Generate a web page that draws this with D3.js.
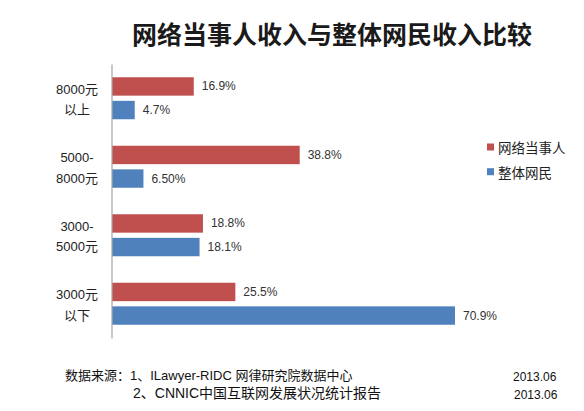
<!DOCTYPE html>
<html>
<head>
<meta charset="utf-8">
<script src="https://cdn.jsdelivr.net/npm/d3@7"></script>
<style>
  body { margin: 0; background: #fff; }
  svg { display: block; }
</style>
</head>
<body>
<svg width="584" height="411"></svg>
<script>
const categories = ["8000元\n以上", "5000-\n8000元", "3000-\n5000元", "3000元\n以下"];
const seriesNames = ["网络当事人", "整体网民"];
const netValues = [16.9, 38.8, 18.8, 25.5];
const allValues = [4.7, 6.5, 18.1, 70.9];
const netLabels = ["16.9%", "38.8%", "18.8%", "25.5%"];
const allLabels = ["4.7%", "6.50%", "18.1%", "70.9%"];
const colors = ["#c0504d", "#4f81bd"];

const cjk = "'Liberation Sans', 'Noto Sans CJK SC', sans-serif";
const svg = d3.select("svg");

const xScale = d3.scaleLinear().domain([0, 80]).range([112, 499]);
const yScale = d3.scaleBand().domain(categories).range([64, 338]).padding(0);
const inner = d3.scaleBand().domain(seriesNames).range([-21, 21]).paddingInner(0.22);

// title
svg.append("text")
  .attr("x", 132)
  .attr("y", 33)
  .attr("dominant-baseline", "central")
  .style("font-family", "'Noto Sans CJK SC', sans-serif")
  .style("font-size", "25px")
  .style("font-weight", "bold")
  .attr("fill", "#1a1a1a")
  .text("网络当事人收入与整体网民收入比较");

// rows
const data = categories.map((c, i) => ({
  cat: c,
  vals: [
    { s: seriesNames[0], v: netValues[i], label: netLabels[i], color: colors[0] },
    { s: seriesNames[1], v: allValues[i], label: allLabels[i], color: colors[1] }
  ]
}));

const groups = svg.selectAll("g.grp")
  .data(data)
  .enter()
  .append("g")
  .attr("class", "grp")
  .attr("transform", d => `translate(0,${yScale(d.cat) + yScale.bandwidth() / 2})`);

groups.selectAll("rect")
  .data(d => d.vals)
  .enter()
  .append("rect")
  .attr("x", xScale(0))
  .attr("y", d => inner(d.s))
  .attr("width", d => xScale(d.v) - xScale(0))
  .attr("height", inner.bandwidth())
  .attr("fill", d => d.color);

groups.selectAll("text.val")
  .data(d => d.vals)
  .enter()
  .append("text")
  .attr("class", "val")
  .attr("x", d => xScale(d.v) + 8)
  .attr("y", d => inner(d.s) + inner.bandwidth() / 2)
  .attr("dominant-baseline", "central")
  .style("font-family", "'Liberation Sans', sans-serif")
  .style("font-size", "12px")
  .attr("fill", "#333")
  .text(d => d.label);

// category labels (two lines)
groups.each(function(d) {
  const lines = d.cat.split("\n");
  const t = d3.select(this).append("text")
    .attr("text-anchor", "middle")
    .style("font-family", cjk)
    .style("font-size", "13px")
    .attr("fill", "#222");
  lines.forEach((l, k) => {
    t.append("tspan")
      .attr("x", 77)
      .attr("y", k === 0 ? -9 : 11.5)
      .attr("dominant-baseline", "central")
      .text(l);
  });
});

// axis
const yAxis = d3.axisLeft(yScale).tickSize(0).tickFormat("");
const yAxisG = svg.append("g")
  .attr("transform", `translate(${xScale(0) - 0.5},0)`)
  .call(yAxis);
yAxisG.select(".domain").attr("stroke", "#a6a6a6").attr("stroke-width", 1.2);

// legend
const legend = svg.selectAll("g.leg")
  .data(seriesNames)
  .enter()
  .append("g")
  .attr("class", "leg")
  .attr("transform", (d, i) => `translate(487,${147 + i * 24.7})`);
legend.append("rect")
  .attr("x", 0)
  .attr("y", -3.5)
  .attr("width", 7)
  .attr("height", 7)
  .attr("fill", (d, i) => colors[i]);
legend.append("text")
  .attr("x", 11)
  .attr("y", 0)
  .attr("dominant-baseline", "central")
  .style("font-family", "'Noto Sans CJK SC', sans-serif")
  .style("font-size", "13.5px")
  .attr("fill", "#222")
  .text(d => d);

// source notes
const notes = [
  { x: 65, y: 375, size: 13, text: "数据来源：1、ILawyer-RIDC 网律研究院数据中心" },
  { x: 133, y: 393, size: 14, text: "2、CNNIC中国互联网发展状况统计报告" }
];
const dates = ["2013.06", "2013.06"];
svg.selectAll("text.note")
  .data(notes)
  .enter()
  .append("text")
  .attr("class", "note")
  .attr("x", d => d.x)
  .attr("y", d => d.y)
  .attr("dominant-baseline", "central")
  .style("font-family", cjk)
  .style("font-size", d => d.size + "px")
  .attr("fill", "#111")
  .text(d => d.text);
svg.selectAll("text.date")
  .data(dates)
  .enter()
  .append("text")
  .attr("class", "date")
  .attr("x", (d, i) => 513 + i)
  .attr("y", (d, i) => notes[i].y + 2)
  .attr("dominant-baseline", "central")
  .style("font-family", "'Liberation Sans', sans-serif")
  .style("font-size", "12px")
  .attr("fill", "#111")
  .text(d => d);
</script>
</body>
</html>
